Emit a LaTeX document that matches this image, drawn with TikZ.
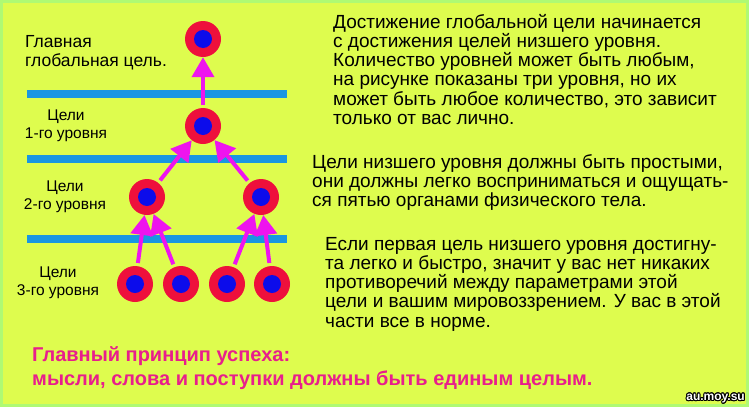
\documentclass[tikz,border=0pt]{standalone}
\usepackage{fontspec}
\setmainfont{Liberation Sans}
\usepackage[copies]{contour}
\usepackage{tikz}
\usetikzlibrary{positioning,arrows.meta}
\definecolor{bgyellow}{RGB}{222,252,78}
\definecolor{framegreen}{RGB}{175,250,115}
\definecolor{barblue}{RGB}{25,150,225}
\definecolor{goalred}{RGB}{238,16,60}
\definecolor{goalblue}{RGB}{12,12,235}
\definecolor{arrmag}{RGB}{238,20,238}
\definecolor{mottopink}{RGB}{232,30,140}
\tikzset{goal/.style={circle, fill=goalred, minimum size=36pt, inner sep=0pt,
	path picture={\fill[goalblue] (path picture bounding box.center) circle (9pt);}}}
\tikzset{uparr/.style={draw=arrmag, line width=4pt, -{Triangle[length=20pt,width=22pt]}, shorten <=3pt}}
\tikzset{levelbar/.style={draw=barblue, line width=8pt}}
\tikzset{lvl/.style={font=\fontsize{15.5}{17.5}\selectfont, align=center, inner sep=0pt}}
\tikzset{para/.style={font=\fontsize{19}{19.2}\selectfont, align=left, anchor=north west, inner sep=0pt}}
\tikzset{motto/.style={font=\fontsize{20}{24.5}\bfseries\selectfont, text=mottopink, align=left, anchor=north west, inner sep=0pt}}
\contourlength{0.9pt}

\begin{document}
\begin{tikzpicture}[x=1pt, y=-1pt]
	\useasboundingbox (0,0) rectangle (749,407);
	\fill[bgyellow] (0,0) rectangle (749,407);
	\draw[framegreen, line width=3pt] (1.5,1.5) rectangle (747.5,405.5);

	% level bars
	\draw[levelbar] (27,94) -- (287,94);
	\draw[levelbar] (27,159) -- (287,159);
	\draw[levelbar] (27,239) -- (287,239);

	% goals
	\node[goal] (g0) at (203,39) {};
	\node[goal] (g1) at (203,126) {};
	\node[goal] (g21) at (147,197) {};
	\node[goal] (g22) at (261,197) {};
	\node[goal] (g31) at (135,284) {};
	\node[goal] (g32) at (181,284) {};
	\node[goal] (g33) at (227,284) {};
	\node[goal] (g34) at (272,284) {};

	\draw[uparr] (g1) -- (g0);
	\draw[uparr] (g21) -- (g1);
	\draw[uparr] (g22) -- (g1);
	\draw[uparr] (g31) -- (g21);
	\draw[uparr] (g32) -- (g21);
	\draw[uparr] (g33) -- (g22);
	\draw[uparr] (g34) -- (g22);

	% level labels
	\node[lvl, font=\fontsize{17.5}{19}\selectfont, align=left, anchor=north west] (l0) at (25,35) {Главная\\глобальная цель.};
	\node[lvl] (l1) at (66,126) {Цели\\1-го уровня};
	\node[lvl] (l2) at (65,197) {Цели\\2-го уровня};
	\node[lvl] (l3) at (58,283) {Цели\\3-го уровня};

	% text
	\node[para] (t1) at (333,14) {Достижение глобальной цели начинается\\
		с достижения целей низшего уровня.\\
		Количество уровней может быть любым,\\
		на рисунке показаны три уровня, но их\\
		может быть любое количество, это зависит\\
		только от вас лично.};
	\node[para] (t2) at (312,154) {Цели низшего уровня должны быть простыми,\\
		они должны легко восприниматься и ощущать-\\
		ся пятью органами физического тела.};
	\node[para] (t3) at (325,237) {Если первая цель низшего уровня достигну-\\
		та легко и быстро, значит у вас нет никаких\\
		противоречий между параметрами этой\\
		цели и вашим мировоззрением. У вас в этой\\
		части все в норме.};
	\node[motto] (m) at (32,346) {Главный принцип успеха:\\
		мысли, слова и поступки должны быть единым целым.};

	\node[anchor=south east, inner sep=0pt, font=\fontsize{12}{12}\bfseries\selectfont] (wm) at (745,404)
		{\contour{black}{\textcolor{white}{au.moy.su}}};
\end{tikzpicture}
\end{document}
